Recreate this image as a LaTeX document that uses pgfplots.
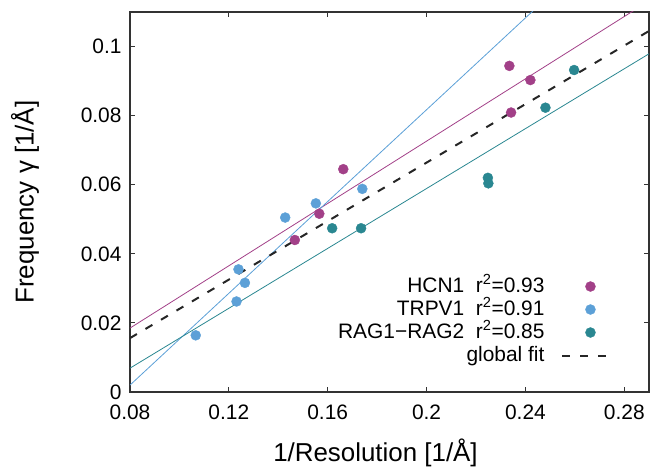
\documentclass[border=0pt]{standalone}
\usepackage{fontspec}
\setmainfont{Liberation Sans}
\usepackage{pgfplots}
\pgfplotsset{compat=1.18}

\definecolor{hcn}{RGB}{162,64,136}
\definecolor{trpv}{RGB}{92,160,215}
\definecolor{rag}{RGB}{42,135,145}

\begin{document}
\begin{tikzpicture}
\begin{axis}[
    scale only axis,
    width=519bp, height=380bp,
    xmin=0.08, xmax=0.29, ymin=0, ymax=0.11,
    xtick={0.08,0.12,0.16,0.2,0.24,0.28},
    ytick={0,0.02,0.04,0.06,0.08,0.1},
    scaled ticks=false,
    /pgf/number format/fixed,
    /pgf/number format/precision=2,
    /pgf/number format/assume math mode=true,
    tick label style={font=\fontsize{21}{25}\selectfont},
    xticklabel style={yshift=-9bp},
    yticklabel style={xshift=-5bp},
    label style={font=\fontsize{26}{30}\selectfont},
    xlabel={1/Resolution [1/Å]},
    ylabel={Frequency γ [1/Å]},
    xlabel style={xshift=-14bp, yshift=-13bp},
    ylabel style={yshift=35bp},
    tick align=inside,
    major tick length=5bp,
    axis line style={line width=1.2bp, black!80},
    tick style={line width=1bp, black!80},
    legend style={at={(axis description cs:0.93,0.06)}, anchor=south east,
        draw=none, fill=none, font=\fontsize{21}{25}\selectfont,
        column sep=16bp, row sep=0bp,
        nodes={inner sep=1bp, text height=16bp, text depth=5bp}},
    legend cell align=right,
    legend plot pos=right,
    legend image code/.code={\draw[mark repeat=2, mark phase=2, #1]
        plot coordinates {(0bp,0bp) (28bp,0bp) (46bp,0bp)};},
]
% fit lines
\addplot[hcn, line width=0.8bp, forget plot] coordinates {(0.08,0.0185) (0.29,0.1132)};
\addplot[trpv, line width=0.8bp, forget plot] coordinates {(0.08,0.0020) (0.29,0.1415)};
\addplot[rag, line width=0.8bp, forget plot] coordinates {(0.08,0.0069) (0.29,0.0979)};

% HCN1
\addplot[only marks, mark=*, mark size=5bp, mark options={draw=hcn, fill=hcn}]
coordinates {(0.2335,0.0944) (0.2420,0.0903) (0.2342,0.0809) (0.1663,0.0645)
             (0.1566,0.0516) (0.1467,0.0440)};
\addlegendentry{HCN1\ \ r\textsuperscript{2}=0.93}

% TRPV1
\addplot[only marks, mark=*, mark size=5bp, mark options={draw=trpv, fill=trpv}]
coordinates {(0.1066,0.0164) (0.1231,0.0262) (0.1239,0.0355) (0.1265,0.0316)
             (0.1428,0.0505) (0.1552,0.0546) (0.1740,0.0588)};
\addlegendentry{TRPV1\ \ r\textsuperscript{2}=0.91}

% RAG1-RAG2
\addplot[only marks, mark=*, mark size=5bp, mark options={draw=rag, fill=rag}]
coordinates {(0.1618,0.0474) (0.1735,0.0474) (0.2248,0.0620) (0.2250,0.0604)
             (0.2481,0.0823) (0.2597,0.0932)};
\addlegendentry{RAG1−RAG2\ \ r\textsuperscript{2}=0.85}

% global fit
\addplot[black!85, line width=2bp, dash pattern=on 8bp off 10bp]
coordinates {(0.08,0.0156) (0.29,0.1045)};
\addlegendentry{global fit}
\end{axis}
\path ([shift={(-130bp,-70bp)}]current axis.south west)
      rectangle ([shift={(4bp,12bp)}]current axis.north east);
\end{tikzpicture}
\end{document}
